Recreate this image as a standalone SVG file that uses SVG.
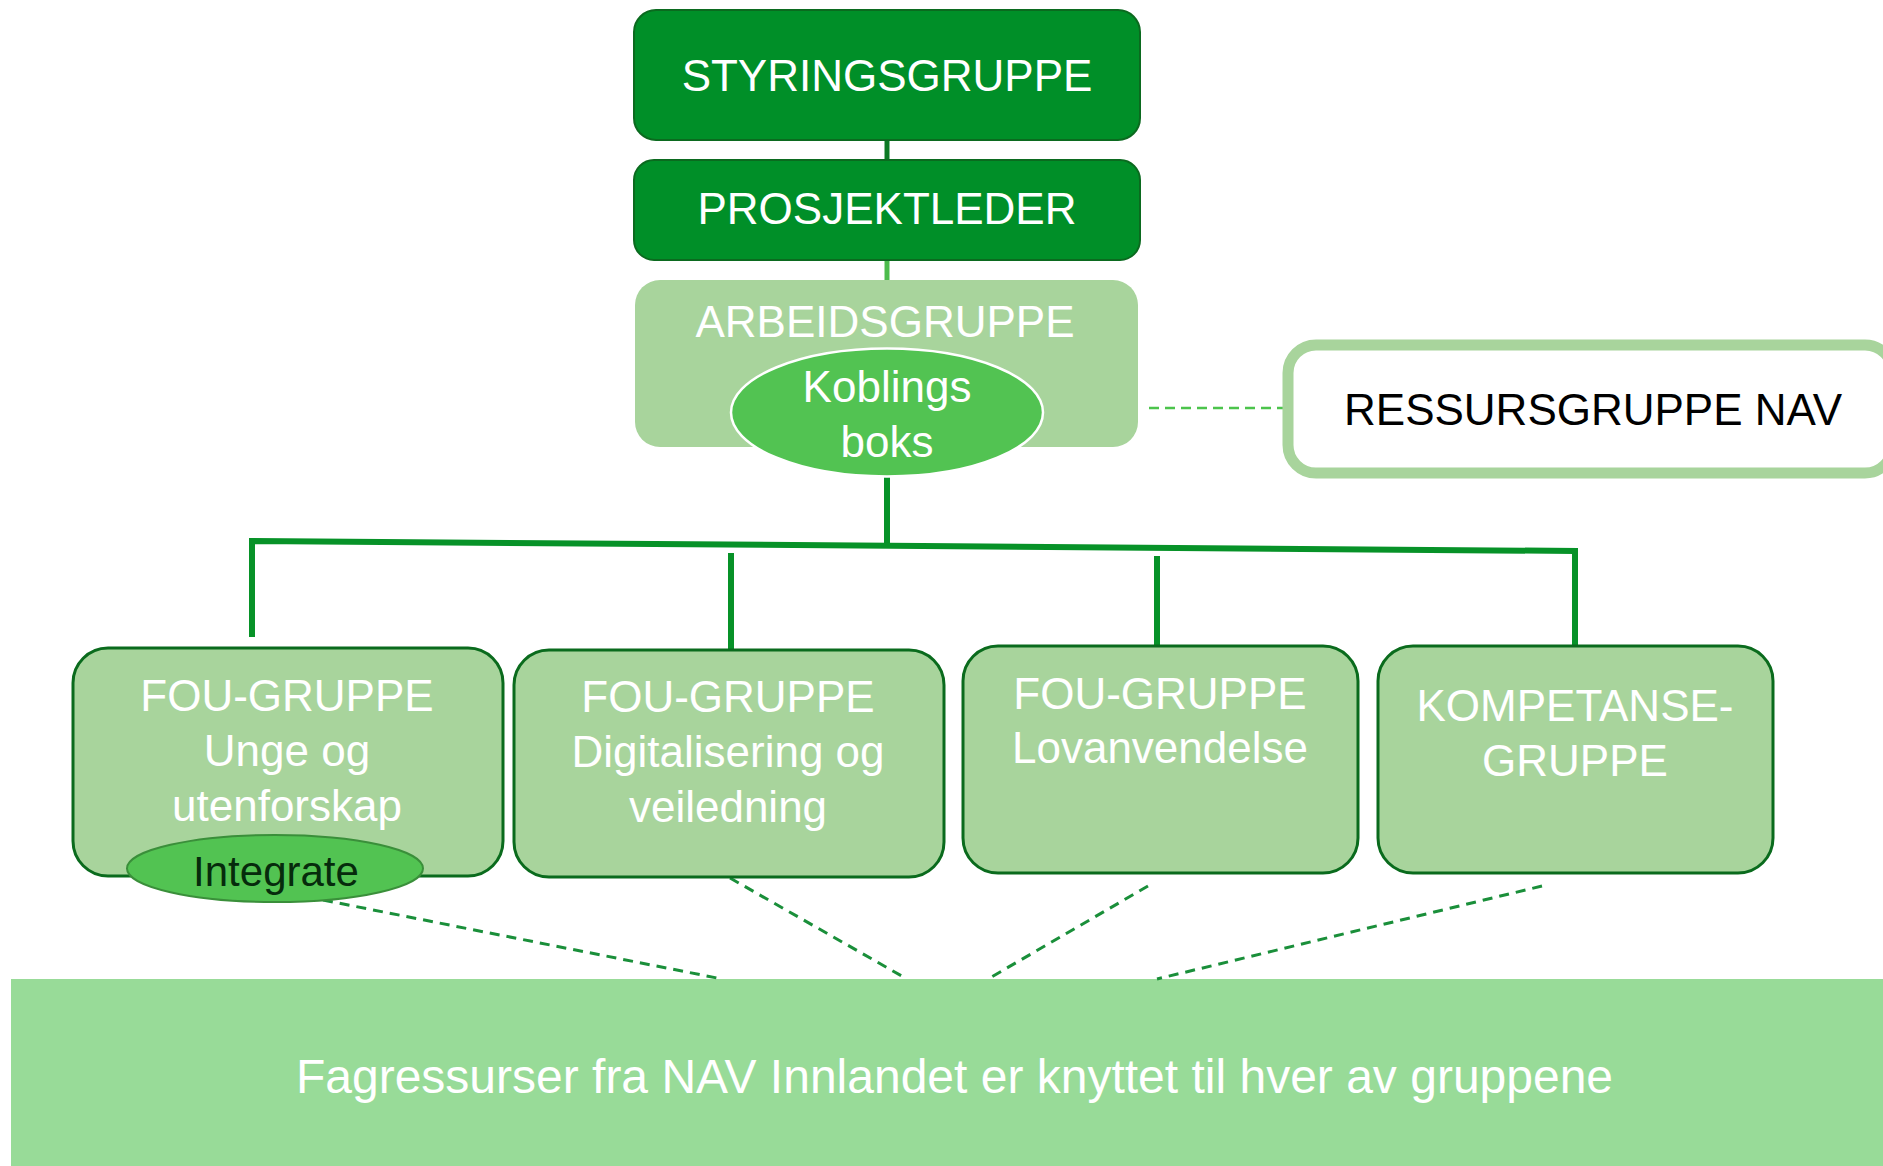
<svg xmlns="http://www.w3.org/2000/svg" width="1883" height="1166" viewBox="0 0 1883 1166">
<style>
text{font-family:"Liberation Sans",Arial,sans-serif;text-anchor:middle}
.dark{fill:#008f28;stroke:#0b6a1f;stroke-width:2}
.fou{fill:#a8d49c;stroke:#0a6b1d;stroke-width:3}
.w{fill:#ffffff;font-size:44px}
.solid{stroke:#079228;stroke-width:6;fill:none}
.dash{stroke:#1a8f3a;stroke-width:3;stroke-dasharray:10 7;fill:none}
</style>
<rect id="band-bg" x="11" y="979" width="1880" height="190" fill="#98db98"/>
<g id="connectors">
<line x1="887" y1="140" x2="887" y2="160" stroke="#0b7a24" stroke-width="5"/>
<line x1="887" y1="260" x2="887" y2="280" stroke="#4cbc4c" stroke-width="5"/>
<line x1="887" y1="476" x2="887" y2="544" class="solid" stroke-width="7"/>
<polyline points="252,637 252,541 1575,551 1575,646" class="solid"/>
<line x1="731" y1="553" x2="731" y2="650" class="solid"/>
<line x1="1157" y1="556" x2="1157" y2="646" class="solid"/>
<line x1="1149" y1="408" x2="1283" y2="408" stroke="#4cc44c" stroke-width="2.5" stroke-dasharray="10 6"/>
<line x1="323" y1="900" x2="722" y2="979" class="dash"/>
<line x1="730" y1="878" x2="907" y2="979" class="dash"/>
<line x1="1148" y1="886" x2="988" y2="979" class="dash"/>
<line x1="1542" y1="886" x2="1157" y2="979" class="dash"/>
</g>
<g id="styringsgruppe">
<rect x="634" y="10" width="506" height="130" rx="22" class="dark"/>
<text x="887" y="91" class="w">STYRINGSGRUPPE</text>
</g>
<g id="prosjektleder">
<rect x="634" y="160" width="506" height="100" rx="20" class="dark"/>
<text x="887" y="224" class="w">PROSJEKTLEDER</text>
</g>
<g id="arbeidsgruppe">
<rect x="635" y="280" width="503" height="167" rx="25" fill="#a8d49c"/>
<text x="885" y="337" class="w">ARBEIDSGRUPPE</text>
</g>
<g id="koblingsboks">
<ellipse cx="887" cy="412.5" rx="156" ry="64" fill="#52c352" stroke="#ffffff" stroke-width="2.5"/>
<text x="887" y="402" class="w">Koblings</text>
<text x="887" y="457" class="w">boks</text>
</g>
<g id="ressursgruppe">
<rect x="1288" y="345" width="605" height="128" rx="28" fill="#ffffff" stroke="#a8d49c" stroke-width="11"/>
<text x="1593" y="425" style="font-size:44px;fill:#000000">RESSURSGRUPPE NAV</text>
</g>
<g id="fou-unge">
<rect x="73" y="648" width="430" height="228" rx="35" class="fou"/>
<text x="287" y="711" class="w">FOU-GRUPPE</text>
<text x="287" y="766" class="w">Unge og</text>
<text x="287" y="821" class="w">utenforskap</text>
</g>
<g id="integrate">
<ellipse cx="275" cy="868.5" rx="148" ry="33.5" fill="#52c352" stroke="#3a8f3a" stroke-width="2"/>
<text x="276" y="886" style="font-size:42px;fill:#062b0c">Integrate</text>
</g>
<g id="fou-digital">
<rect x="514" y="650" width="430" height="227" rx="35" class="fou"/>
<text x="728" y="712" class="w">FOU-GRUPPE</text>
<text x="728" y="767" class="w">Digitalisering og</text>
<text x="728" y="822" class="w">veiledning</text>
</g>
<g id="fou-lov">
<rect x="963" y="646" width="395" height="227" rx="35" class="fou"/>
<text x="1160" y="709" class="w">FOU-GRUPPE</text>
<text x="1160" y="763" class="w">Lovanvendelse</text>
</g>
<g id="kompetanse">
<rect x="1378" y="646" width="395" height="227" rx="35" class="fou"/>
<text x="1575" y="721" class="w">KOMPETANSE-</text>
<text x="1575" y="776" class="w">GRUPPE</text>
</g>
<g id="fagressurser">
<text x="954.5" y="1093" style="font-size:48px;fill:#ffffff">Fagressurser fra NAV Innlandet er knyttet til hver av gruppene</text>
</g>
</svg>
